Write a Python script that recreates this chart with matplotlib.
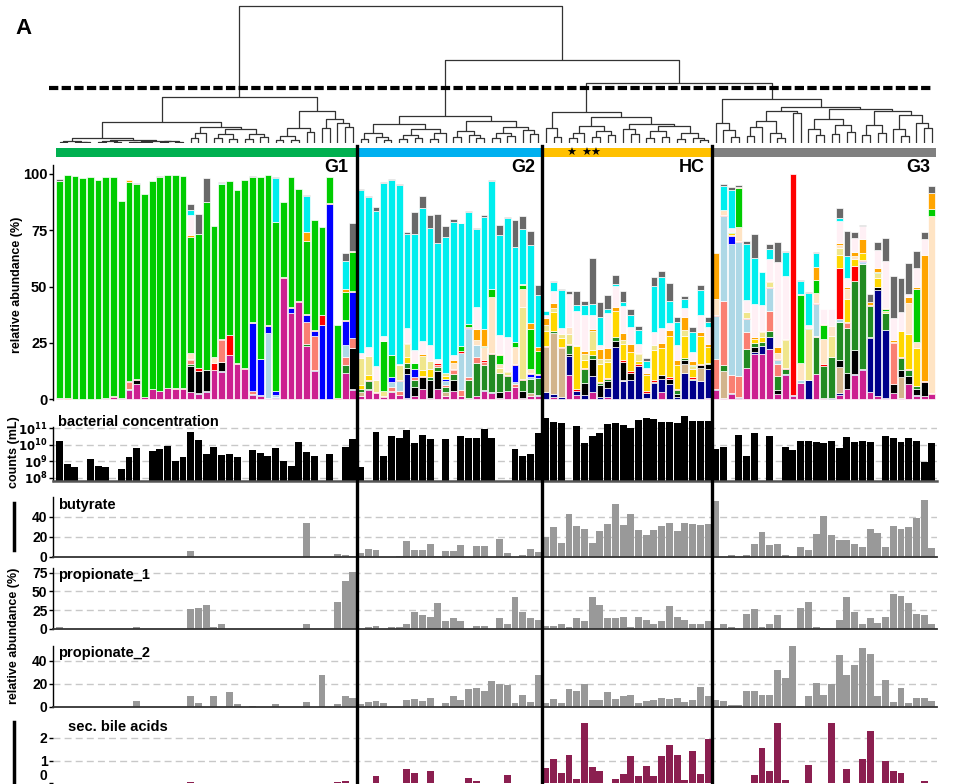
import numpy as np
import matplotlib
matplotlib.use("Agg")
import matplotlib.pyplot as plt
from matplotlib.lines import Line2D

W, H = 955, 784
plt.rcParams["font.family"] = ["Liberation Sans", "DejaVu Sans"]
plt.rcParams["font.weight"] = "bold"
plt.rcParams["lines.scale_dashes"] = False

# ---------------------------------------------------------------- groups
group_names = ["G1", "G2", "HC", "G3"]
group_sizes = [39, 24, 22, 29]
group_colors = ["#00B050", "#00B0F0", "#FFC000", "#808080"]

# ---------------------------------------------------------------- dendrogram (height, left, right); 0 = leaf
tree_g1 = [46,
           [21,
            [4.7, [1.7, [1.2, 0, 0], [1.0, 0, [0.8, 0, 0]]],
             [2.8, [2.0, [1.2, 0, 0], [1.5, 0, 0]],
              [2.3, [1.5, [1.0, 0, 0], [1.2, 0, 0]], [1.8, [1.0, 0, 0], [1.3, 0, 0]]]]],
            [16, [9.7, [5, 0, 0], 0],
             [13.7, [9, [5, 0, 0], [4, 0, 0]], [9, [4, 0, 0], [6, 0, 0]]]]],
           [32,
            [15.3, [7, [3, 0, 0], [3, 0, 0]], [11.3, 0, 0]],
            [24, [14.7, 0, 0], [20.3, 0, [16, 0, 0]]]]]
tree_g2 = [27,
           [18.7, [9.7, [4, 0, 0], [6, 0, [3, 0, 0]]], [14, [8, [4, 0, 0], [5, 0, 0]], [10, [4, 0, 0], 0]]],
           [22, [12, [6, 0, 0], [8, 0, [5, 0, 0]]], [16, [10, [5, 0, 0], [7, 0, 0]], [13, 0, [9, 0, 0]]]]]
tree_hc = [31,
           [14.7, 0, [6, 0, 0]],
           [25.7,
            [17.3, [10, [5, 0, 0], 0], [12, [6, 0, 0], [8, 0, 0]]],
            [19, [14, 0, [9, 0, 0]], [17, [12, [5, 0, 0], [6, 0, 0]], [10, [4, 0, 0], [5, 0, [3, 0, 0]]]]]]]
tree_g3 = [44,
           [20.3, 0, [13, 0, [6, 0, 0]]],
           [35.7,
            [32, [22.3, [16.3, [7, 0, 0], 0], [10, 0, [5, 0, 0]]], [29.7, 0, 0]],
            [34.3, [23.7, [14, 0, [8, 0, 0]], [18, [9, 0, 0], [11, 0, 0]]],
             [32, [18, [8, 0, 0], [10, 0, 0]], [27.7, [14, 0, [7, 0, 0]], [20, 0, [15, 0, 0]]]]]]]
tree = [137, tree_g1, [83, tree_g2, [60, tree_hc, tree_g3]]]
cut_height = 55

# ---------------------------------------------------------------- relative abundance per taxon (%), G1 | G2 | HC | G3
taxon_colors = ["#CC2090", "#00008B", "#D2B48C", "#000000", "#228B22", "#FA8072",
                "#ADD8E6", "#0000FF", "#FF0000", "#FFD700", "#F0E68C", "#FFE4C4",
                "#00CC00", "#FFA500", "#FFF0F5", "#00EEEE", "#696969"]

ab_magenta = [.3, .2, 0, .2, .2, .2, .7, 1, .7, 4, 6.5, 1, 4.3, 3.5, 5, 4.5, 4.7, 3, 2.3, 3.3,
              12.9, 12, 19.5, 15.4, 13.2, 1.8, 1.5, .5, .5, 54, 38.4, 43.3, 23.8, 12.5, 0, 0, 0, 11.4, 4,
              1.3, 4, 2.8, 1, 3, 2, .3, 1.3, 4.3, .7, 4.3, 1.3, 3.6, 1.3, .3, 1.3, 3.7, 2.8, .7, 3.6, 5.5, .3, 1.3, 1.5,
              0, 1, 0, 10.7, 1.8, 0, 3.3, 0, 1, 0, 0, 0, 0, .7, 0, 3.3, 0, 0, 0, 0, 0, .7,
              4, .7, 2.2, .7, 13.9, 20, 20, 22.2, 2.2, 10.7, 1.2, 7, 0, 11, .4, 0, 2, 4.3, 10.7, 12.9,
              3.3, 1.2, .7, 2.5, .3, 6.5, 1.5, 1.2, 2.4]
ab_navy = [0, 0, 0, 0, 0, 0, 0, 0, 0, .3, .3, 0, 0, 0, 0, 0, 0, .3, .2, .3,
           0, .3, 0, .2, 0, .3, .3, .2, .5, 0, 0, 0, 0, .4, 0, 0, 0, 0, .3,
           0, 0, 0, 0, 0, 0, 10.8, 0, 0, 0, 0, 0, 0, 0, .4, 0, .5, .5, 0, 0, 0, 0, 0, .5,
           3.3, 1.2, 1, 8.4, 2, 2, 6.9, 1, 4, 23.1, 8.1, 8.7, 14.7, 2, 7, 5.5, 6.7, 1, 11.7, 8.5, 8.1, 12.6,
           .3, 0, .4, .4, 0, .7, 3.7, 5.2, 0, .4, .4, 0, 8.5, .3, 0, .7, .7, 0, .4, .4,
           23.7, 47.4, 30, 0, 0, 0, .5, .3, 0]
ab_tan = [0] * 39 + [
    2, 0, 0, 0, 0, 0, 0, 0, 0, 0, 0, 2, 0, 0, 0, 0, 0, 0, 0, 0, 0, 0, 1.5, 0,
    19.7, 27, 21.5, 0, 0, 0, 0, 0, 0, 0, .3, 0, 0, 0, 0, 0, 0, 0, 3.9, 0, 5.5, 0,
    0, 11.9, 0, 0, 0, 0, 0, 0, 0, 0, 0, 0, 0, 0, 0, 0, 11.4, 0, 0, 0, 0, 0, 0, 0, 9.5, 0, 0, 0, 0]
ab_black = [0, 0, 0, 0, 0, 0, 0, 0, 0, 0, 1.8, 0, 0, 0, 0, 0, 0, 11.5, 10, 9.4,
            0, 4, 0, 0, 0, 0, 0, 0, 0, 0, 0, 0, 0, 0, 0, 0, 0, 0, 18.2,
            0, .7, 0, 0, 0, 0, 2.5, 4.2, 5.3, 7.7, 8.3, 0, 4.8, 0, 0, 0, 0, 0, 2.6, 0, 0, 3.4, 0, 0,
            0, 0, 0, 1, 0, 5.3, 7.6, 5.2, 3, 2.5, 8.2, 3, 0, 0, .7, 1.9, 2.2, 1.2, 1.8, 0, 1.5, 2.4,
            0, 0, 0, 0, 0, 2.5, 0, 0, 2, 0, 0, 0, 0, 0, 0, 0, 3.4, 7.1, 10.7, 0,
            .8, 1, 0, 4.4, 3, 3.7, 2.7, 6.2, 0]
ab_forest = [0, 0, 0, 0, 0, 0, 0, 0, 0, 0, 0, 0, 0, 0, 0, 0, 0, 1, 0, 0,
             0, .4, 0, 0, 0, 0, 0, 0, 0, 0, 0, 0, .5, 0, 0, 0, 0, 3.6, 0,
             1, 3.3, 0, 0, .8, 0, 2.5, 2.9, 0, 1.2, 1.5, 1.9, 2.7, 0, 7.7, 14.6, 10.8, 16.7, 8.1, 6.7, 0, 5, 6, 7.5,
             0, 1.2, 0, 4, 0, 5.9, 1.8, 1, 1, 1.9, 0, 0, 0, 0, 0, 0, 0, 1.8, .7, .5, 0, .5,
             .3, 2.7, 0, 0, 8.5, 1.5, 1.5, 2.8, 5.9, 2.2, 0, 0, 0, 16.3, 14.1, 18.1, 16.6, 20, 30.6, 46.7,
             13.5, 0, 7.4, 0, 5.6, 2.8, .9, 0, 0]
ab_salmon = [0, 0, 0, 0, 0, 0, 0, 0, 0, 3.5, 0, 0, 0, 0, 0, 0, 0, 1.5, 0, 0,
             0, 9.5, 0, 0, 0, 1.5, 0, 0, 0, 0, 0, 0, 10.1, 15, 0, 0, 0, 3.5, 4.5,
             0, 0, 0, 0, 1.7, 1.5, 0, 1.2, 0, 0, 1.2, 1, 1.8, 2.7, 1.5, 2.9, 1.5, 0, 0, 0, 1.2, 0, 0, 0] + [0] * 22 + [
             13, 28.1, 8.1, 9.1, 7.3, 0, 0, 9.1, 5.3, 0, 0, 0, 0, .3, 0, 0, 0, 2.2, 0, 0,
             0, 0, 0, 18, 0, 0, 0, 0, 0]
ab_lightblue = [0] * 27 + [28.5, 1] + [0] * 8 + [5.5, 0] + [
    0, 0, 0, 0, 2.3, 4.5, 0, 0, 0, 0, 0, 1.9, 0, 16.6, 21.2, 5.2, 0, 0, 0, 0, 1, 0, 1, 0] + [0] * 22 + [
    19.3, 38, 58.2, 59.7, 5.9, 0, 0, 10, 2.1, 0, 0, 1.5, 0, 14.5, 0, 0, 1.5, 0, 0, .7,
    0, 0, 0, 0, 0, 0, 0, 0, 0]
ab_blue = [0] * 25 + [30.4, 15.8, 3.4, 1.5, 0, 1.9, 0, 2.9, 2.5, 33, 86.5, 0, 10.5, 20.5] + [
    0, 0, 0, 0, 1.9, 0, 0, 3.6, 0, 0, 0, 1, 0, 0, .4, 0, 0, 0, 0, 0, 7.4, 0, 1.2, 1] + [0] * 22 + [
    0, 0, 3.5, 0, 0, 0, 0, 0, 0, 0, 0, 0, 0, 0, 0, 0, 0, 0, 0, .8,
    0, 0, 0, 0, 0, 0, 0, 0, 0]
ab_red = [.4, .2, 0, 0, 0, 0, 0, .3, 0, .4, .4, 0, .4, .3, 0, .3, .3, .5, 1.5, 0,
          3.2, .3, 9, .4, .4, .4, .3, .3, .3, .3, .4, .4, .4, .4, 4.5, .4, .3, .5, .3,
          0, .6, .5, .3, 0, .4, 0, 0, .8, 0, .8, 0, .4, .7, .7, 0, .7, .6, 0, .4, .4, .4, .5, .5,
          .6, 0, .7, .4, .7, .7, 0, .5, .5, 0, .6, .7, .7, .7, .7, 0, .7, .7, 0, .7, .7, 0,
          .5, .4, .4, .4, .4, 0, 0, .4, .4, .4, 98.4, 0, 0, .4, 1.2, 0, 22.8, .5, 6.7, .4,
          .5, 0, 0, .4, .4, .4, .4, .4, .5]
ab_gold = [0] * 39 + [
    2, 2.3, 0, 0, 0, 0, 2.4, 0, 2.5, 3.7, 0, 1.2, 0, 0, 0, 0, 0, 0, 0, 0, 0, 0, 0, 0,
    6.8, 8.1, 4.1, 0, 18.9, 3.3, 2.4, 7.7, 7, 11.6, 7.1, 8.6, 1.5, 7.4, 13.3, 11.9, 18.4, 10.4, 9.9, 3.5, 12.1, 7.1,
    0, 0, .8, 0, 0, 1.9, 2.2, 0, 0, 0, 0, 0, 0, 0, 0, 0, 5.6, 10.3, 3.1, 2.8,
    0, 4, 0, 0, 11.6, 15.4, 16.7, 0, 0]
ab_khaki = [0] * 39 + [
    11.8, 8.4, 5.1, 2.4, 0, 6.6, 5.9, 0, 6.4, 3.7, 0, 1.2, 0, 0, 0, 0, 0, 0, 2.6, 1.3, 0, 31.9, 0, 0,
    2.5, 1.8, 1.8, 4.4, .8, 2.7, 8.4, 2.4, 1.5, 0, 2.1, 0, 3, 0, 2.2, 0, 0, 0, 2.7, 1.5, 0, 0,
    0, 0, 0, 0, 2.5, 0, 2.5, 2.4, 0, 12.6, 0, 0, 22.5, 0, 0, 9.2, 3, 0, 0, 0,
    0, 2.3, 1, 0, 0, 0, 0, 0, 0]
ab_bisque = [0] * 17 + [2.5, 0, 0, 2.4] + [0] * 18 + [
    0, 0, 0, 0, 0, 0, 0, 0, 0, 0, 0, 0, 2.6, 0, 0, 2.2, 5.9, 24.9, 1.8, 0, 7.8, 7.8, 1.8, 0,
    0, 0, 0, 3] + [0] * 18 + [
    7, 2.2, 0, 6.2, 0, 0, 0, 0, 2.6, 0, 0, 7.4, 0, 4.2, 10.8, 4.3, 1.5, 4.5, 1.5, 0,
    0, 0, 0, 0, 0, 13.8, 2.7, 0, 78.3]
ab_green = [96.2, 99.1, 99, 97.8, 98.3, 97.3, 97.8, 97.2, 87.3, 88.4, 86.5, 90, 92.3, 94.7, 94.5, 94.7, 94,
            51.5, 59.5, 74.5, 58.5, 69, 68.5, 77, 83.7, 64.1, 80.9, 66.6, 75, 33.2,
            58.1, 49.5, 32.5, 48.7, 39, 11.6, 32.7, 12.5, 17.7,
            0, 0, 0, 22.2, 10, 0, 0, 2.7, 0, 0, 0, 0, 0, 2.3, 1, 0, .7, 3.2, 3.8, 0, 2.2, 1.8, 17.9, 10.5] + [
            0] * 19 + [.5, 0, 0] + [
            0, 0, .7, 17.3, 0, 0, 0, 0, 0, 0, 0, 30.4, .5, 5.9, 6.4, 0, 0, 0, 0, 0,
            0, .4, .7, 0, 0, 0, 23.4, 0, 3.4]
ab_orange = [0] * 9 + [.7] + [0] * 7 + [1] + [0] * 14 + [4] + [0] * 4 + [1.5, .5] + [
    0, 0, 0, 0, 0, 0, .6, 0, .6, 0, 0, 0, 1.4, 0, 0, 4.8, 7.3, 0, .5, .4, 0, .7, 2.5, 1.5,
    3, 2.5, 0, 0, 0, 1.5, .6, 4.4, 4.5, 1.8, 3, 3.6, .6, .7, 0, 2.5, 2.7, 2.2, 5.9, 1.8, 1.9, 1.2,
    20.3, 0, 0, .6, 0, 1, .4, .5, 2.5, .4, 0, .3, 0, 5.9, .4, 0, .7, .7, 1.8, 6.2,
    1.3, 1.9, .6, .8, 0, 2.8, .8, 55.7, 6.8]
ab_lavender = [0] * 17 + [9] + [0] * 21 + [
    2.3, 3.7, 6.3, 2.1, 0, .6, 6.4, 5.9, 5.8, 7, 1.5, 0, 2.3, 0, 0, 10, 0, 0, 8.3, 15.1, 0, 0, 0, 0,
    1.5, 5.2, 2.7, 14.8, 14.9, 15.8, 6.3, 2, 15.7, 9.2, 11.8, 7.4, 4.1, 2.2, 5.9, 6.7, 3, 6.7, 4, 4.1, 7.4, 7.4,
    0, 0, 1.5, 0, 5.3, 14.5, 11.4, 9.6, 37.7, 27.9, 0, 0, 1.6, 0, 6.5, 7.7, 10, 4, 6.2, 5.9,
    0, 8, 20.8, 10.1, 8.4, 1.4, 8.6, 7.2, 0]
ab_cyan = [0] * 17 + [2, 0, 0, 0, .3] + [0] * 6 + [19.5, 0, 0, 0, 15.8, 0, 0, 0, 0, 12.5, 0] + [
    72.5, 66.8, 69, 67.9, 77.7, 79.5, 41.9, 51.5, 59.2, 51.9, 51.9, 60.5, 59.1, 54.4, 49.7, 34.6,
    49.6, 48.2, 44.5, 52.8, 41.9, 24.1, 34.8, 23.1,
    1.9, 4, 16.6, 0, 2.9, 4.5, 4.9, 12.3, 2, 1.2, 1.9, 5.3, 6, 3.4, 20.3, 22.5, 10, 10.2, 3.7, 8.6, 11.1, 2.5,
    0, 10.8, 17, 0, 25.2, 20.4, 14.6, 4.4, 0, 10.7, 0, 5.8, 13.9, 5.9, 0, 0, 1.3, 10.1, 0, 0,
    0, 0, 0, 0, 0, 0, 0, 0, 0]
ab_gray = [.8, 0, 0, 0, 0, 0, 0, 0, 0, 0, .5, 0, 0, .8, 0, 0, 0, 3, 8.5, 10.5,
           0, .8, 0, 0, 0, .7, 0, 0, .4, 0, 0, 0, .5, 0, 0, 0, 0, 3.5, 12,
           .2, .3, 1.5, .4, .3, .5, 1.1, 10, 5.2, 5.9, 12.7, 5, 1.2, .3, .5, .5, 1.1, .6, 4.4, .7, 12.2, 5.9, 6, 4.7,
           0, .4, .4, 1.3, 6.2, 1.8, 20.5, 6.6, 6, 3.8, 4.7, 2.8, 2, 1.3, 4.1, 2.4, 8, 2.4, 1.5, 2.2, 2.2, 2.2,
           0, .8, 1.2, .7, 1.2, 10.8, 0, 2.3, 9, .4, 0, .5, .6, .6, 0, 0, 4.4, 10.8, 2.4, .4,
           3.6, 3.7, 10.4, 18.6, 15.2, 13.6, 7.7, 3.2, 3.3]

taxa = [ab_magenta, ab_navy, ab_tan, ab_black, ab_forest, ab_salmon, ab_lightblue, ab_blue,
        ab_red, ab_gold, ab_khaki, ab_bisque, ab_green, ab_orange, ab_lavender, ab_cyan, ab_gray]

# ---------------------------------------------------------------- bacterial concentration (counts / mL), nan = not measured
nan = np.nan
bact_conc = [1.7e10, 6.8e8, 4.5e8, nan, 1.4e9, 5.1e8, 4.5e8, nan, 3.4e8, 1.8e9,
             6.2e9, nan, 4.2e9, 5.5e9, 8.5e9, 1.0e9, 1.8e9, 6.0e10, 1.9e10, 2.8e9,
             7.4e9, 2.4e9, 2.8e9, 1.8e9, nan, 4.8e9, 3.2e9, 2.1e9, 6.5e9, 1.0e9,
             5.1e8, 1.5e10, 3.6e9, 2.1e9, nan, 2.8e9, nan, 7.4e9, 2.2e10,
             4.5e8, nan, 6.0e10, 2.1e9, 3.5e10, 2.6e10, 8.0e10, 1.3e10, 4.0e10, 2.2e10,
             nan, 2.2e10, nan, 3.5e10, 2.6e10, 2.6e10, 9.1e10, 2.6e10, nan, nan,
             5.5e9, 2.1e9, 2.8e9, 5.2e10,
             4.3e11, 2.5e11, 2.1e11, nan, 1.4e11, 1.3e10, 3.5e10, 5.2e10, 1.9e11, 2.1e11,
             1.6e11, 1.05e11, 3.2e11, 4.3e11, 3.7e11, 2.5e11, 2.5e11, 2.1e11, 5.6e11, 2.8e11,
             2.8e11, 2.8e11,
             5.5e9, 7.4e9, nan, 4.0e10, 2.1e9, 5.2e10, nan, 3.5e10, nan, 7.4e9,
             4.8e9, 1.7e10, 1.7e10, 1.5e10, 1.3e10, 1.7e10, 6.5e9, 3.0e10, 1.5e10, 1.7e10,
             1.5e10, nan, 3.5e10, 2.6e10, 1.5e10, 2.6e10, 1.7e10, 8.9e8, 1.3e10]

# ---------------------------------------------------------------- metabolites (relative abundance %)
butyrate = [0] * 17 + [6] + [0] * 14 + [34, 0, 0, 0, 3, 2, 1] + [
    4, 8, 7, 0, 0, 1, 16, 7, 7, 13, 1, 6, 6, 12, 0, 11, 11, 0, 18, 4, 0, 2, 8, 5,
    20, 30, 14, 43, 31, 28, 14, 26, 33, 53, 32, 43, 27, 22, 27, 31, 34, 26, 34, 33, 32, 33,
    56, 0, 2, 0, 2, 13, 25, 12, 13, 2, 0, 10, 7, 23, 41, 22, 17, 17, 13, 10,
    28, 24, 10, 31, 28, 30, 39, 57, 9]
propionate_1 = [2, 0, 0, 0, 0, 0, 0, 0, 0, 0, 3, 0, 0, 0, 0, 0, 0, 27, 28, 32,
                2, 7, 0, 0, 0, 0, 0, 0, 0, 0, 0, 0, 6, 0, 0, 0, 36, 64, 76,
                0, 2, 4, 0, 2, 3, 7, 23, 18, 16, 35, 11, 14, 10, 0, 4, 4, 0, 15, 6, 43, 23, 14, 12,
                4, 4, 6, 3, 14, 11, 42, 32, 15, 14, 16, 2, 16, 12, 6, 10, 30, 16, 12, 7, 6, 11,
                0, 6, 3, 0, 20, 27, 2, 6, 18, 0, .5, 28, 36, 2, .5, 0, 12, 42, 22, 7,
                15, 8, 16, 46, 44, 34, 20, 18, 6]
propionate_2 = [0, 0, 0, 0, 0, 0, 0, 0, 0, 0, 5, 0, 0, 0, 0, 0, 0, 9, 3, 0,
                9, 0, 13, 2, 0, 1, 0, 0, 2, 0, 0, 0, 4, 0, 28, 0, 2, 9, 8,
                2, 4, 5, 3, 0, 0, 6, 7, 5, 8, 0, 3.5, 9, 6, 15, 16, 14, 22, 20, 19, 3, 10, 4, 28,
                3, 7, 3, 15, 14, 20, 6, 6, 13, 7, 9, 10, 3.5, 5, 6, 8, 7, 8, 4, 6, 17, 9,
                6, 5, 1.5, 1.5, 14, 14, 10, 10, 32, 25, 53, .5, 9, 21, 10, 20, 45, 28, 36, 51,
                46, 9, 23, 4, 16.5, 3, 8, 8, 5]
sec_bile_acids = [0] * 17 + [.07] + [0] * 10 + [.02] + [0] * 7 + [.07, .1, 0] + [
    .02, 0, .34, 0, 0, 0, .64, .47, 0, .55, 0, 0, 0, 0, .23, .12, 0, 0, 0, .36, 0, 0, 0, 0,
    .69, 1.08, .47, 1.26, .19, 2.64, .73, .55, 0, .19, .42, 1.21, .34, .77, .34, 1.21, 1.69, 1.26, .16, 1.43,
    .42, 1.96,
    0, .02, 0, 0, 0, .36, 1.56, .55, 2.64, .16, 0, 0, .82, 0, 0, 2.64, 0, .64, .02, 1.08,
    2.31, 0, 1.0, .55, .47, .02, 0, .12, 0]

n = sum(group_sizes)
for arr in taxa + [bact_conc, butyrate, propionate_1, propionate_2, sec_bile_acids]:
    assert len(arr) == n, len(arr)

x = np.arange(n)
XLIM = ((53 - 59.5) / 7.72, (937 - 59.5) / 7.72)
bounds = np.cumsum(group_sizes)[:-1] - 0.5


def rect(top, bottom):
    return [53 / W, 1 - bottom / H, 884 / W, (bottom - top) / H]


def ftext(xp, yp, s, **kw):
    fig.text(xp / W, 1 - yp / H, s, **kw)


def style_panel(ax, ylim, ticks, grid, spine_top=None, labels=None):
    ax.set_xlim(*XLIM)
    ax.set_ylim(*ylim)
    ax.set_xticks([])
    ax.set_yticks(ticks)
    if labels is not None:
        ax.set_yticklabels(labels)
    ax.tick_params(axis="y", length=3, width=1, pad=1, labelsize=10)
    for lab in ax.get_yticklabels():
        lab.set_fontweight("bold")
    for s in ["top", "right"]:
        ax.spines[s].set_visible(False)
    ax.spines["left"].set_linewidth(1)
    if spine_top is not None:
        ax.spines["left"].set_bounds(ylim[0], spine_top)
    ax.spines["bottom"].set_linewidth(1.3)
    ax.spines["bottom"].set_color("#333333")
    for g in grid:
        ax.axhline(g, color="#c8c8c8", lw=1, ls=(0, (5, 3)), zorder=0)
    ax.patch.set_alpha(0)


fig = plt.figure(figsize=(W / 100, H / 100), dpi=100)

# ---------------------------------------------------------------- dendrogram
ax_d = fig.add_axes(rect(5, 143))
leaves = iter(range(n))


def walk(node):
    if node == 0:
        return next(leaves), 0.0
    h, left, right = node
    xl, hl = walk(left)
    xr, hr = walk(right)
    ax_d.plot([xl, xl, xr, xr], [hl, h, h, hr], color="#333333", lw=0.9, solid_capstyle="butt")
    return (xl + xr) / 2, h


walk(tree)
ax_d.plot([(49 - 59.5) / 7.72, (933 - 59.5) / 7.72], [cut_height, cut_height], color="black",
          lw=3, dashes=(6.7, 2.4), clip_on=False)
ax_d.set_xlim(*XLIM)
ax_d.set_ylim(0, 138)
ax_d.axis("off")

# ---------------------------------------------------------------- group colour bar
ax_g = fig.add_axes(rect(148, 157))
start = 0
for size, col in zip(group_sizes, group_colors):
    ax_g.axvspan(start - 0.5, start + size - 0.5, color=col, lw=0)
    start += size
ax_g.set_xlim(*XLIM)
ax_g.set_ylim(0, 1)
ax_g.axis("off")
for sx in [571, 586, 595]:
    ftext(sx, 152.5, "\u2605", fontsize=8, family="DejaVu Sans", ha="center", va="center")

# ---------------------------------------------------------------- stacked relative abundance
ax_s = fig.add_axes(rect(160, 400))
bottom = np.zeros(n)
for vals, col in zip(taxa, taxon_colors):
    vals = np.asarray(vals, float)
    m = vals > 0
    ax_s.bar(x[m], vals[m], bottom=bottom[m], width=0.88, color=col, edgecolor="white", linewidth=0.5)
    bottom += vals
style_panel(ax_s, (-0.4, 106.2), [0, 25, 50, 75, 100], [], spine_top=104)
ax_s.spines["bottom"].set_visible(False)
ax_s.tick_params(axis="y", labelsize=10.5)
label_right = [348, 535, 705, 930]
for name, xr in zip(group_names, label_right):
    ftext(xr, 168, name, ha="right", va="center", fontsize=13, fontweight="bold")

# ---------------------------------------------------------------- bacterial concentration
ax_c = fig.add_axes(rect(412, 481))
conc = np.log10(np.asarray(bact_conc, float))
m = ~np.isnan(conc)
base = 7.8
ax_c.bar(x[m], conc[m] - base, bottom=base, width=0.9, color="black", lw=0)
style_panel(ax_c, (base, 11.99), [8, 9, 10, 11], [8, 9, 10, 11], spine_top=11.05,
            labels=[r"$\mathbf{10^{%d}}$" % e for e in [8, 9, 10, 11]])
ax_c.tick_params(axis="y", labelsize=8.5)
ax_c.spines["bottom"].set_color("#555555")
ax_c.spines["bottom"].set_linewidth(1.8)
ftext(58, 422, "bacterial concentration", fontsize=10.5, fontweight="bold", va="center")

# ---------------------------------------------------------------- metabolite panels
panels = [
    (butyrate, "butyrate", 495, 557, 62, [0, 20, 40], [20, 40], 60, "#999999", 58, 505),
    (propionate_1, "propionate_1", 565, 629, 85.3, [0, 25, 50, 75], [25, 50, 75], 81, "#999999", 58, 575),
    (propionate_2, "propionate_2", 643, 706.7, 55.4, [0, 20, 40], [20, 40], 53, "#999999", 58, 653),
    (sec_bile_acids, "sec. bile acids", 712, 783.3, 3.13, [0, 1, 2], [1, 2], None, "#8B1F50", 68, 727),
]
for vals, title, top, bot, ymax, ticks, grid, stop, col, tx, ty in panels:
    ax = fig.add_axes(rect(top, bot))
    vals = np.asarray(vals, float)
    m = vals > 0
    ax.bar(x[m], vals[m], width=0.9, color=col, lw=0)
    style_panel(ax, (0, ymax), ticks, grid, spine_top=stop)
    if stop is None:
        ax.spines["left"].set_visible(False)
        ax.spines["bottom"].set_visible(False)
        ax.get_yticklabels()[0].set_verticalalignment("bottom")
    ftext(tx, ty, title, fontsize=10.5, fontweight="bold", va="center")

# ---------------------------------------------------------------- axis labels and decorations
ftext(17, 285, "relative abundance (%)", rotation=90, fontsize=9, fontweight="bold",
      ha="center", va="center")
ftext(14, 452, "counts (mL)", rotation=90, fontsize=9, fontweight="bold", ha="center", va="center")
ftext(14, 636, "relative abundance (%)", rotation=90, fontsize=9, fontweight="bold",
      ha="center", va="center")
for y0, y1 in [(503, 550), (722, 784)]:
    fig.add_artist(Line2D([14 / W, 14 / W], [1 - y0 / H, 1 - y1 / H], color="black", lw=2.5))
ftext(23, 29, "A", fontsize=16, fontweight="bold", ha="center", va="center")

for b in bounds:
    xp = 59.5 + 7.72 * b
    fig.add_artist(Line2D([xp / W, xp / W], [1 - 146 / H, 0], color="black", lw=2.4))

fig.savefig("out.png", dpi=100)
